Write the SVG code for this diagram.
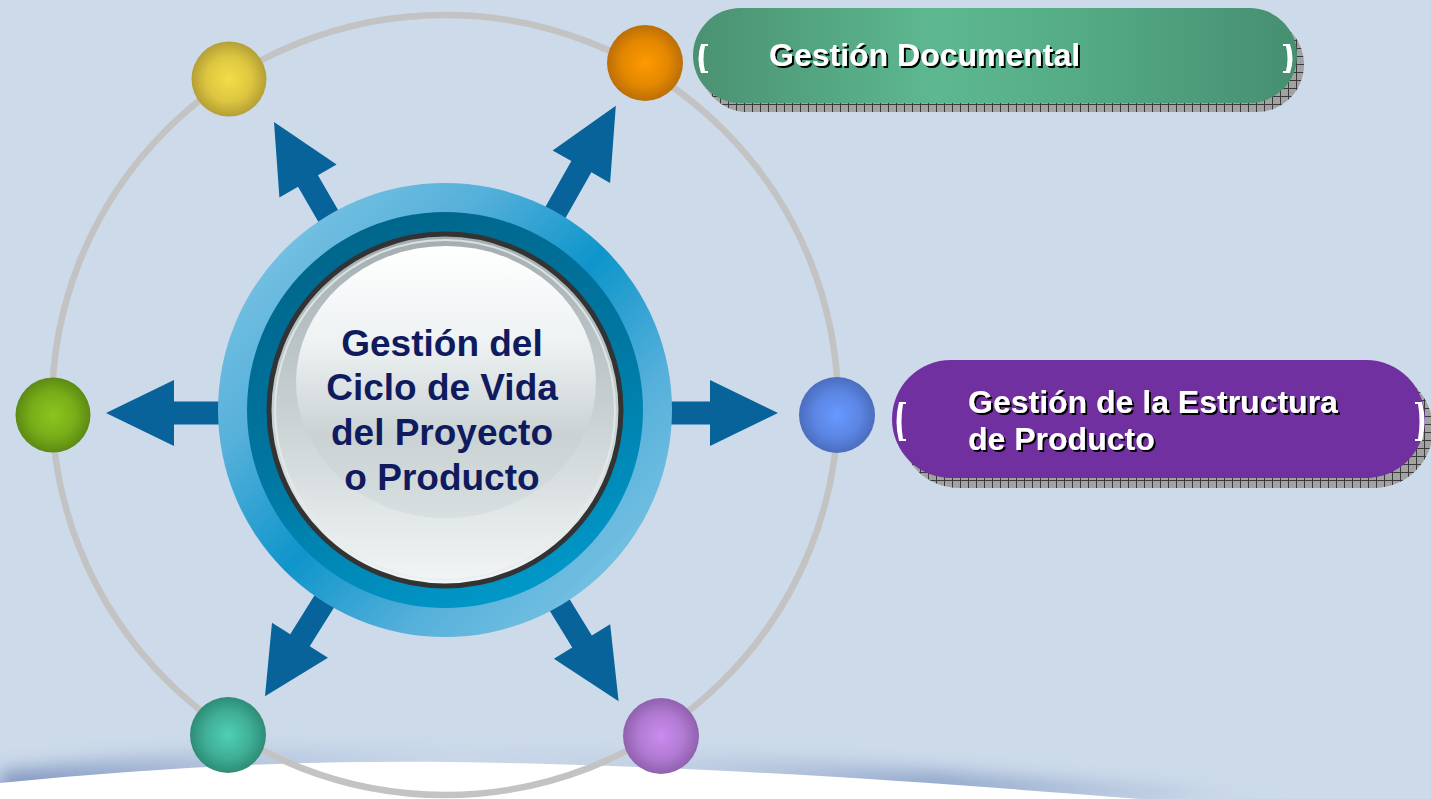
<svg xmlns="http://www.w3.org/2000/svg" width="1431" height="799" viewBox="0 0 1431 799">
<style>
.ring{fill:none;stroke:#C3C3C3;stroke-width:6.5}
.arrow{fill:#07639A}
.label{font-family:"Liberation Sans",Arial,sans-serif;font-weight:bold;font-size:32px;fill:#FFFFFF;filter:url(#ts)}
.center{font-family:"Liberation Sans",Arial,sans-serif;font-weight:bold;font-size:37px;fill:#0F1B5E;text-anchor:middle}
.brk{fill:#FFFFFF}
</style>
<defs>
<filter id="ts" x="-5%" y="-20%" width="110%" height="140%">
<feDropShadow dx="2" dy="2" stdDeviation="0.3" flood-color="#000" flood-opacity="1"/>
</filter>
<filter id="blur" x="-10%" y="-50%" width="120%" height="200%">
<feGaussianBlur stdDeviation="9"/>
</filter>
<pattern id="hatch" width="8" height="8" patternUnits="userSpaceOnUse">
<rect width="8" height="8" fill="#A2A2A2"/>
<path d="M0,0.5H8M0.5,0V8" stroke="#3A3A3A" stroke-width="1"/>
</pattern>
<linearGradient id="waveShade" x1="0" y1="0" x2="1" y2="0">
<stop offset="0" stop-color="#6F86B6" stop-opacity="0.85"/>
<stop offset="0.2" stop-color="#8EA2C8" stop-opacity="0.35"/>
<stop offset="0.35" stop-color="#A5B6D3" stop-opacity="0.1"/>
<stop offset="0.5" stop-color="#A5B6D3" stop-opacity="0.25"/>
<stop offset="0.72" stop-color="#7F96C2" stop-opacity="0.75"/>
<stop offset="0.9" stop-color="#8FA3C8" stop-opacity="0.45"/>
<stop offset="1" stop-color="#CCDAEA" stop-opacity="0"/>
</linearGradient>
<radialGradient id="gYellow" cx="0.5" cy="0.5" r="0.5"><stop offset="0" stop-color="#F2DE48"/><stop offset="0.6" stop-color="#DDC640"/><stop offset="1" stop-color="#B49F35"/></radialGradient>
<radialGradient id="gOrange" cx="0.5" cy="0.5" r="0.5"><stop offset="0" stop-color="#FF9A00"/><stop offset="0.6" stop-color="#E48800"/><stop offset="1" stop-color="#BB6E08"/></radialGradient>
<radialGradient id="gGreen" cx="0.5" cy="0.5" r="0.5"><stop offset="0" stop-color="#8CC51E"/><stop offset="0.6" stop-color="#78AD18"/><stop offset="1" stop-color="#5C8A14"/></radialGradient>
<radialGradient id="gBlue" cx="0.5" cy="0.5" r="0.5"><stop offset="0" stop-color="#6699FF"/><stop offset="0.6" stop-color="#5C86E4"/><stop offset="1" stop-color="#4A6DBE"/></radialGradient>
<radialGradient id="gTeal" cx="0.5" cy="0.5" r="0.5"><stop offset="0" stop-color="#4FD0B6"/><stop offset="0.6" stop-color="#40AF96"/><stop offset="1" stop-color="#2E8C76"/></radialGradient>
<radialGradient id="gPurple" cx="0.5" cy="0.5" r="0.5"><stop offset="0" stop-color="#CC8CF0"/><stop offset="0.6" stop-color="#B07AD2"/><stop offset="1" stop-color="#9060AE"/></radialGradient>
<linearGradient id="gOuter" x1="0" y1="0" x2="1" y2="1">
<stop offset="0" stop-color="#8CCDE8"/>
<stop offset="0.3" stop-color="#56B0DA"/>
<stop offset="0.5" stop-color="#0E95CB"/>
<stop offset="0.7" stop-color="#56B0DA"/>
<stop offset="1" stop-color="#8CCDE8"/>
</linearGradient>
<linearGradient id="gDark" x1="0.3" y1="0" x2="0.7" y2="1">
<stop offset="0" stop-color="#00658A"/>
<stop offset="0.5" stop-color="#0077A2"/>
<stop offset="1" stop-color="#009ACB"/>
</linearGradient>
<linearGradient id="gDisc" x1="0" y1="0" x2="0" y2="1">
<stop offset="0" stop-color="#A3ADB0"/>
<stop offset="0.5" stop-color="#C8D0D2"/>
<stop offset="1" stop-color="#F3F6F7"/>
</linearGradient>
<linearGradient id="gHi" x1="0" y1="0" x2="0" y2="1">
<stop offset="0" stop-color="#FFFFFF"/>
<stop offset="0.35" stop-color="#EEF2F3"/>
<stop offset="0.7" stop-color="#CAD2D4"/>
<stop offset="1" stop-color="#D8DFE0"/>
</linearGradient>
<linearGradient id="gGreenPill" x1="0" y1="0" x2="1" y2="0">
<stop offset="0" stop-color="#4A9172"/>
<stop offset="0.4" stop-color="#5DB891"/>
<stop offset="0.6" stop-color="#56AE88"/>
<stop offset="1" stop-color="#468F71"/>
</linearGradient>
</defs>

<rect width="1431" height="799" fill="#CCDAEA"/>

<g id="wave">
<path d="M0,772 C150,754 300,746 450,748 C700,751 950,771 1200,792 L1300,799 L0,799 Z" fill="url(#waveShade)" filter="url(#blur)"/>
<path d="M0,783 C150,768 300,760 450,762 C700,765 950,784 1140,799 L0,799 Z" fill="#FFFFFF"/>
</g>

<ellipse class="ring" cx="445" cy="405" rx="393" ry="390"/>

<g id="connectors">
<polygon class="arrow" points="200,-11.5 268,-11.5 268,-33 336,0 268,33 268,11.5 200,11.5" transform="translate(442,413)"/>
<polygon class="arrow" points="200,-11.5 268,-11.5 268,-33 336,0 268,33 268,11.5 200,11.5" transform="translate(442,413) rotate(180)"/>
<polygon class="arrow" points="200,-11.5 283,-11.5 283,-33 353,0 283,33 283,11.5 200,11.5" transform="translate(442,413) rotate(-60.5)"/>
<polygon class="arrow" points="200,-11.5 268,-11.5 268,-33 336,0 268,33 268,11.5 200,11.5" transform="translate(442,413) rotate(-120)"/>
<polygon class="arrow" points="200,-11.5 268,-11.5 268,-33 334,0 268,33 268,11.5 200,11.5" transform="translate(442,413) rotate(122)"/>
<polygon class="arrow" points="200,-11.5 268,-11.5 268,-33 338,0 268,33 268,11.5 200,11.5" transform="translate(442,413) rotate(58.5)"/>
</g>

<g id="node-yellow"><circle cx="229" cy="79" r="37.5" fill="url(#gYellow)"/></g>
<g id="node-orange"><circle cx="645" cy="63" r="38" fill="url(#gOrange)"/></g>
<g id="node-green"><circle cx="53" cy="415" r="37.5" fill="url(#gGreen)"/></g>
<g id="node-blue"><circle cx="837" cy="415" r="38" fill="url(#gBlue)"/></g>
<g id="node-teal"><circle cx="228" cy="735" r="38" fill="url(#gTeal)"/></g>
<g id="node-purple"><circle cx="661" cy="736" r="38" fill="url(#gPurple)"/></g>

<g id="center">
<circle cx="445" cy="410" r="227" fill="url(#gOuter)"/>
<circle cx="445" cy="410" r="198" fill="url(#gDark)"/>
<circle cx="445" cy="410" r="176" fill="url(#gDisc)" stroke="#333333" stroke-width="5"/>
<circle cx="445" cy="410" r="170" fill="none" stroke="#E6ECED" stroke-width="2" opacity="0.8"/>
<ellipse cx="446" cy="382" rx="150" ry="136" fill="url(#gHi)"/>
<text class="center" x="442" y="356">Gestión del</text>
<text class="center" x="442" y="400">Ciclo de Vida</text>
<text class="center" x="442" y="445">del Proyecto</text>
<text class="center" x="442" y="490">o Producto</text>
</g>

<g id="label-documental">
<rect x="700" y="17" width="604" height="95" rx="47.5" fill="url(#hatch)"/>
<rect x="693" y="8" width="604" height="95" rx="47.5" fill="url(#gGreenPill)"/>
<path class="brk" d="M708,44 L701,44 Q696,58.5 701,73 L708,73 L708,71 L705,71 Q702,58.5 705,46 L708,46 Z"/>
<path class="brk" d="M1283,44 L1290,44 Q1295,58.5 1290,73 L1283,73 L1283,71 L1286,71 Q1289,58.5 1286,46 L1283,46 Z"/>
<text class="label" x="769" y="66">Gestión Documental</text>
</g>

<g id="label-estructura">
<rect x="900" y="370" width="533" height="118" rx="59" fill="url(#hatch)"/>
<rect x="892" y="360" width="533" height="118" rx="59" fill="#7030A0"/>
<path class="brk" d="M906,402 L899,402 Q894,421.5 899,441 L906,441 L906,439 L903,439 Q900,421.5 903,404 L906,404 Z"/>
<path class="brk" d="M1415,402 L1422,402 Q1427,421.5 1422,441 L1415,441 L1415,439 L1418,439 Q1421,421.5 1418,404 L1415,404 Z"/>
<text class="label" x="968" y="413">Gestión de la Estructura</text>
<text class="label" x="968" y="450">de Producto</text>
</g>
</svg>
